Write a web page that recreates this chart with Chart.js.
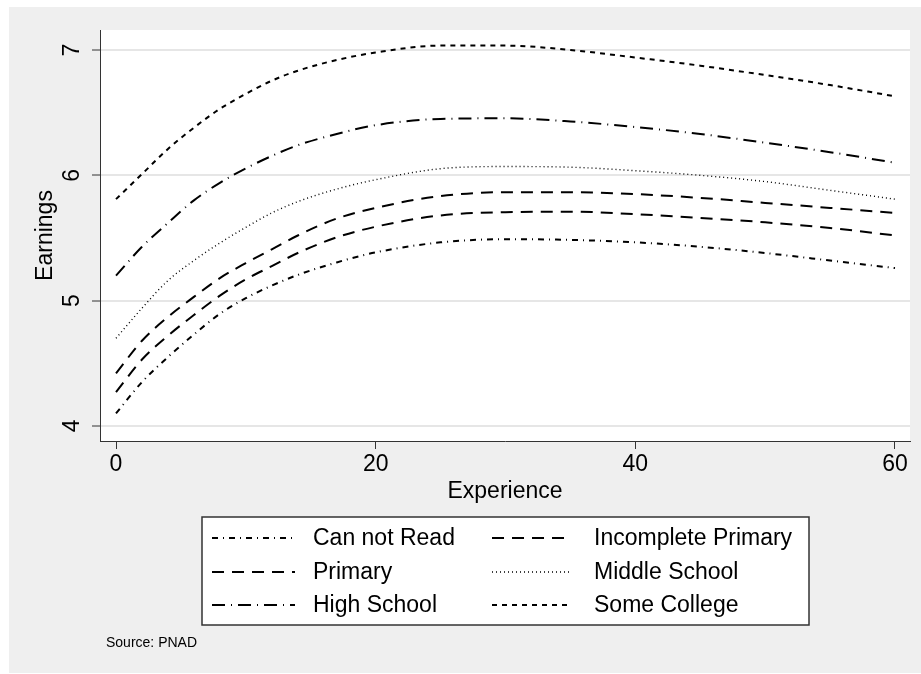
<!DOCTYPE html>
<html>
<head>
<meta charset="utf-8">
<script src="https://cdn.jsdelivr.net/npm/chart.js@4.4.1/dist/chart.umd.min.js"></script>
<style>
  html, body { margin: 0; padding: 0; background: #fff; }
  canvas { display: block; }
</style>
</head>
<body>
<canvas id="c" width="921" height="674"></canvas>
<script>
// Years of experience at which each earnings profile is given
const experience = [0, 2, 4, 6, 8, 10, 12, 14, 17, 20, 25, 30, 35, 40, 45, 50, 55, 60];

// Log earnings by schooling level
const canNotRead        = [4.10, 4.35, 4.55, 4.73, 4.895, 5.02, 5.12, 5.205, 5.305, 5.385, 5.465, 5.49, 5.485, 5.465, 5.43, 5.38, 5.32, 5.26];
const incompletePrimary = [4.27, 4.53, 4.72, 4.885, 5.04, 5.17, 5.275, 5.38, 5.505, 5.59, 5.68, 5.706, 5.71, 5.69, 5.66, 5.625, 5.58, 5.52];
const primary           = [4.42, 4.68, 4.87, 5.03, 5.18, 5.30, 5.41, 5.52, 5.655, 5.74, 5.835, 5.865, 5.865, 5.85, 5.82, 5.78, 5.74, 5.70];
const middleSchool      = [4.70, 4.94, 5.16, 5.32, 5.46, 5.585, 5.70, 5.79, 5.89, 5.965, 6.053, 6.07, 6.065, 6.037, 6.00, 5.95, 5.88, 5.81];
const highSchool        = [5.20, 5.43, 5.62, 5.80, 5.94, 6.055, 6.155, 6.24, 6.33, 6.40, 6.45, 6.455, 6.43, 6.385, 6.33, 6.26, 6.185, 6.10];
const someCollege       = [5.81, 6.01, 6.21, 6.38, 6.53, 6.65, 6.755, 6.835, 6.92, 6.98, 7.035, 7.035, 7.00, 6.94, 6.875, 6.80, 6.72, 6.63];

const seriesNames = ['Can not Read', 'Incomplete Primary', 'Primary', 'Middle School', 'High School', 'Some College'];
const seriesValues = [canNotRead, incompletePrimary, primary, middleSchool, highSchool, someCollege];

const xTickValues = [0, 20, 40, 60];
const yTickValues = [4, 5, 6, 7];

const xTitle = 'Experience';
const yTitle = 'Earnings';
const noteText = 'Source: PNAD';

// Line patterns, one per series
const dashPatterns = [[6, 5, 1, 5], [12, 8], [12, 8], [1, 3], [13, 6, 1, 6], [5, 5]];
const lineWidths = [2, 2, 2, 1.4, 2, 2];

const FONT = '"Liberation Sans", Arial, Helvetica, sans-serif';
const INK = '#000';
const AXIS = '#333';

const datasets = seriesNames.map((name, i) => ({
  label: name,
  data: experience.map((x, j) => ({ x: x, y: seriesValues[i][j] })),
  borderColor: '#000',
  borderWidth: lineWidths[i],
  borderDash: dashPatterns[i],
  borderCapStyle: 'butt',
  pointRadius: 0,
  fill: false,
  cubicInterpolationMode: 'monotone'
}));

// Grey frame with white plot region behind everything
const backdrop = {
  id: 'backdrop',
  beforeDraw(chart) {
    const { ctx, chartArea: a, width, height } = chart;
    ctx.save();
    ctx.fillStyle = '#fff';
    ctx.fillRect(0, 0, width, height);
    ctx.fillStyle = '#efefef';
    ctx.fillRect(9, 7, width - 9, height - 8);
    ctx.fillStyle = '#fff';
    ctx.fillRect(a.left, a.top, a.right - a.left, a.bottom - a.top);
    ctx.restore();
  }
};

// Vertical tick labels on the y axis
const yLabels = {
  id: 'yLabels',
  afterDraw(chart) {
    const { ctx } = chart;
    const s = chart.scales.y;
    ctx.save();
    ctx.font = '23px ' + FONT;
    ctx.fillStyle = INK;
    ctx.textAlign = 'center';
    ctx.textBaseline = 'middle';
    s.ticks.forEach(t => {
      const py = s.getPixelForValue(t.value);
      ctx.save();
      ctx.translate(s.right - 27, py);
      ctx.rotate(-Math.PI / 2);
      ctx.fillText(String(t.value), 0, 0);
      ctx.restore();
    });
    ctx.restore();
  }
};

// Boxed two-column key and source note under the plot
const keyBox = {
  id: 'keyBox',
  afterDraw(chart) {
    const { ctx } = chart;
    const box = { x: 202, y: 517, w: 607, h: 108 };
    const rowY = [538, 572, 605];
    const sampleX = [[212, 295], [492, 570]];
    const textX = [313, 594];
    ctx.save();
    ctx.fillStyle = '#fff';
    ctx.fillRect(box.x, box.y, box.w, box.h);
    ctx.strokeStyle = '#333';
    ctx.lineWidth = 1.5;
    ctx.strokeRect(box.x, box.y, box.w, box.h);
    ctx.font = '23px ' + FONT;
    ctx.textBaseline = 'middle';
    ctx.textAlign = 'left';
    chart.data.datasets.forEach((ds, i) => {
      const row = Math.floor(i / 2), col = i % 2;
      const y = rowY[row];
      ctx.save();
      ctx.strokeStyle = ds.borderColor;
      ctx.lineWidth = ds.borderWidth;
      ctx.lineCap = 'butt';
      ctx.setLineDash(ds.borderDash);
      ctx.beginPath();
      ctx.moveTo(sampleX[col][0], y);
      ctx.lineTo(sampleX[col][1], y);
      ctx.stroke();
      ctx.restore();
      ctx.fillStyle = INK;
      ctx.fillText(ds.label, textX[col], y + 1);
    });
    ctx.font = '14px ' + FONT;
    ctx.fillStyle = INK;
    ctx.fillText(noteText, 106, 643);
    ctx.restore();
  }
};

new Chart(document.getElementById('c'), {
  type: 'line',
  data: { datasets },
  plugins: [backdrop, yLabels, keyBox],
  options: {
    responsive: false,
    animation: false,
    devicePixelRatio: 1,
    layout: { padding: { left: 0, top: 30, right: 11, bottom: 163 } },
    plugins: { legend: { display: false }, tooltip: { enabled: false } },
    scales: {
      x: {
        type: 'linear',
        min: -1.233,
        max: 61.156,
        afterBuildTicks: s => { s.ticks = xTickValues.map(v => ({ value: v })); },
        afterFit: s => { s.height = 70; },
        grid: { drawOnChartArea: false, drawTicks: true, tickLength: 8, tickColor: AXIS, tickWidth: 1 },
        border: { display: true, color: AXIS, width: 1 },
        ticks: { color: INK, font: { family: FONT, size: 23 }, padding: 2, maxRotation: 0 },
        title: { display: true, text: xTitle, color: INK, font: { family: FONT, size: 23 }, padding: { top: 0, bottom: 6 } }
      },
      y: {
        type: 'linear',
        min: 3.88,
        max: 7.1596,
        afterBuildTicks: s => { s.ticks = yTickValues.map(v => ({ value: v })); },
        afterFit: s => { s.width = 100; },
        grid: { color: '#e6e6e6', lineWidth: 2, drawTicks: true, tickLength: 8, tickColor: AXIS, tickWidth: 1 },
        border: { display: true, color: AXIS, width: 1 },
        ticks: { display: false },
        title: { display: true, text: yTitle, color: INK, font: { family: FONT, size: 23 }, padding: { top: 32, bottom: 0 } }
      }
    }
  }
});
</script>
</body>
</html>
